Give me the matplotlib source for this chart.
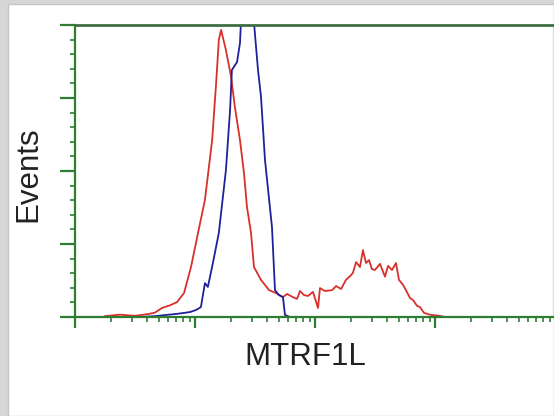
import matplotlib.pyplot as plt
from matplotlib.patches import Rectangle
from matplotlib.ticker import LogLocator, MultipleLocator, NullFormatter

# fluorescence intensity (log scale) and events (% of axis height)
red_x = [1.78, 2.37, 3.16, 4.06, 4.64, 5.31, 6.19, 7.08, 8.10, 9.26, 10.6, 12.1, 13.9,
         15.0, 15.8, 16.5, 18.1, 20.0, 21.5, 23.7, 25.6, 27.1, 29.3, 31.0, 35.5, 41.4,
         47.3, 54.1, 58.4, 65.6, 70.8, 75.0, 81.0, 87.4, 96.2, 106, 110, 121, 139, 150,
         165, 181, 196, 207, 220, 237, 251, 266, 282, 298, 316, 348, 383, 406, 438, 473,
         501, 541, 573, 619, 656, 709, 750, 810, 926, 1059, 1211]
red_y = [0.3, 0.8, 0.4, 1.0, 1.5, 3.1, 4.0, 5.1, 8.2, 17.1, 28.8, 40.1, 60.6,
         80.1, 94.9, 98.3, 91.4, 82.2, 71.9, 60.6, 49.3, 37.7, 28.8, 17.1, 12.7, 9.2,
         8.2, 6.8, 7.9, 6.8, 6.2, 8.9, 7.5, 7.2, 8.6, 3.1, 9.9, 8.9, 9.2, 10.6,
         9.6, 12.7, 14.0, 15.1, 18.8, 17.1, 22.9, 18.5, 19.5, 16.4, 16.1, 18.2, 13.8, 17.5, 16.1, 18.5,
         12.7, 11.0, 9.2, 6.5, 5.8, 3.8, 3.4, 1.4, 0.7, 0.5, 0.0]

blue_x = [3.48, 4.64, 5.73, 6.81, 8.10, 9.09, 10.2, 11.2, 12.1, 12.8, 14.1, 15.8, 18.1,
          19.6, 20.3, 22.4, 23.7, 24.6, 27.1, 30.4, 33.5, 35.5, 38.3, 43.8, 46.4, 50.1,
          54.1, 56.2, 61.9, 75.0]
blue_y = [0.0, 0.3, 0.7, 1.0, 1.4, 1.7, 2.4, 3.4, 11.6, 10.3, 18.5, 28.8, 50.3,
          70.9, 84.6, 87.3, 93.8, 108, 125, 105, 84.6, 75.3, 53.8, 30.8, 9.2, 7.5,
          6.8, 0.7, 0.0, 0.0]

green = '#2f7d32'

fig = plt.figure(figsize=(5.54, 4.16), dpi=100)
fig.patch.set_facecolor('#d6d6d6')
fig.patches.append(Rectangle((8 / 554, 0), 546 / 554, 412 / 416, transform=fig.transFigure,
                             facecolor='white', edgecolor='#c4c4c4', linewidth=1, zorder=-10))

ax = fig.add_axes([75 / 554, 99 / 416, 478 / 554, 292 / 416])
ax.set_facecolor('none')
ax.set_zorder(5)

ax.plot(red_x, red_y, color='#d8302a', lw=1.3)
ax.plot(blue_x, blue_y, color='#20209a', lw=1.3)

ax.set_xscale('log')
ax.set_xlim(1, 10 ** (478 / 120))
ax.set_ylim(0, 100)

ax.xaxis.set_major_locator(LogLocator(base=10))
ax.xaxis.set_minor_locator(LogLocator(base=10, subs=range(2, 10)))
ax.xaxis.set_major_formatter(NullFormatter())
ax.xaxis.set_minor_formatter(NullFormatter())
ax.yaxis.set_major_locator(MultipleLocator(25))
ax.yaxis.set_minor_locator(MultipleLocator(5))
ax.yaxis.set_major_formatter(NullFormatter())

ax.tick_params(axis='x', which='major', direction='out', length=8, width=1.6, color=green)
ax.tick_params(axis='x', which='minor', direction='out', length=3.5, width=1.2, color=green)
ax.tick_params(axis='y', which='major', direction='out', length=11, width=1.6, color=green)
ax.tick_params(axis='y', which='minor', direction='out', length=3.5, width=1.2, color=green)

for side in ['left', 'bottom', 'top']:
    ax.spines[side].set_color(green)
    ax.spines[side].set_linewidth(1.6)
ax.spines['top'].set_color('#3f6e45')
ax.spines['top'].set_linewidth(2)
ax.spines['right'].set_color('#cfe6cf')
ax.spines['right'].set_linewidth(1)

ax.set_xlabel('MTRF1L', fontsize=22.5, family='Liberation Sans', color='#222222')
ax.set_ylabel('Events', fontsize=22.5, family='Liberation Sans', color='#222222')
ax.xaxis.set_label_coords(0.481, -0.085)
ax.yaxis.set_label_coords(-0.067, 0.49)

fig.savefig('out.png', dpi=100, facecolor=fig.get_facecolor())
